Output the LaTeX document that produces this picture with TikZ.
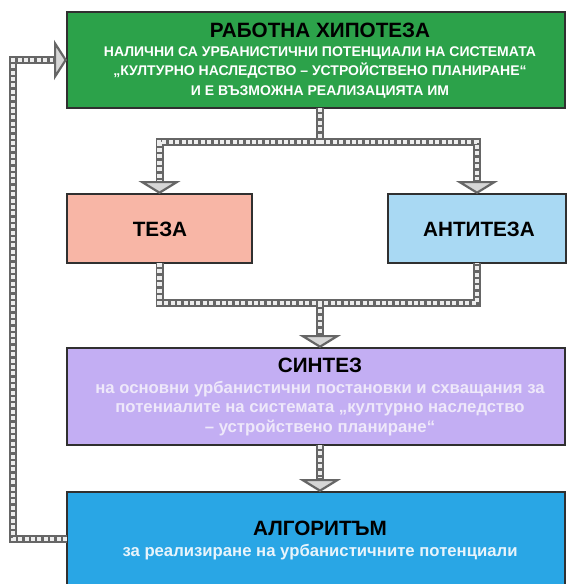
\documentclass[tikz,border=0pt]{standalone}
\usepackage{fontspec}
\setmainfont{Liberation Sans}
\usetikzlibrary{arrows.meta}
\definecolor{hypgreen}{HTML}{2CA24A}
\definecolor{tezapink}{HTML}{F8B6A6}
\definecolor{antiblue}{HTML}{A9D9F3}
\definecolor{synthlav}{HTML}{C3AEF3}
\definecolor{algoblue}{HTML}{29A6E5}
\definecolor{railgray}{HTML}{666666}
\definecolor{railin}{HTML}{EDEDED}
\definecolor{arrowfill}{HTML}{D6D6D6}
\definecolor{boxline}{HTML}{303030}
\definecolor{synthtext}{HTML}{EEE8FA}
\definecolor{algotext}{HTML}{E8F4FB}
\tikzset{
  box/.style={draw=boxline, line width=1.3pt, rectangle, inner sep=0pt, outer sep=0pt},
  railbase/.style={draw=railgray, line width=8pt, line join=miter,
    postaction={draw=railin, line width=4.4pt, dash pattern=on 4pt off 2.4pt}},
  rail/.style={draw=railgray, line width=8pt, line join=miter,
    -{Triangle[width=42pt,length=13pt,line width=2.2pt,fill=arrowfill]},
    postaction={draw=railin, line width=4.4pt, dash pattern=on 4pt off 2.4pt, arrows=-, shorten >=14pt}},
  railside/.style={draw=railgray, line width=8pt, line join=miter,
    -{Triangle[width=40pt,length=13pt,line width=2.2pt,fill=arrowfill]},
    postaction={draw=railin, line width=4.4pt, dash pattern=on 4pt off 2.4pt, arrows=-, shorten >=14pt}},
  titletxt/.style={font=\fontsize{20.7}{24}\selectfont\bfseries, text=black, inner sep=0pt},
  subtxt/.style={font=\fontsize{14}{19.5}\selectfont\bfseries, align=center, inner sep=0pt},
  bodytxt/.style={font=\fontsize{16.7}{19.5}\selectfont\bfseries, align=center, inner sep=0pt},
}
\begin{document}
\begin{tikzpicture}[x=1pt,y=-1pt]
\useasboundingbox (0,0) rectangle (567,584);
\clip (0,0) rectangle (567,584);
\fill[white] (0,0) rectangle (567,584);

% boxes
\node[box, fill=hypgreen, minimum width=498pt, minimum height=96pt] (hyp) at (316,60) {};
\node[box, fill=tezapink, minimum width=185pt, minimum height=69pt] (teza) at (159.5,228.5) {};
\node[box, fill=antiblue, minimum width=178pt, minimum height=69pt] (anti) at (477,228.5) {};
\node[box, fill=synthlav, minimum width=498pt, minimum height=97pt] (synth) at (316,396.5) {};
\node[box, fill=algoblue, minimum width=498pt, minimum height=94pt] (algo) at (316,539) {};

% texts
\node[titletxt] (hyptitle) at (320,30) {РАБОТНА ХИПОТЕЗА};
\node[subtxt, text=white] (hyptext) at (320,72.5) {НАЛИЧНИ СА УРБАНИСТИЧНИ ПОТЕНЦИАЛИ НА СИСТЕМАТА\\„КУЛТУРНО НАСЛЕДСТВО – УСТРОЙСТВЕНО ПЛАНИРАНЕ“\\И Е ВЪЗМОЖНА РЕАЛИЗАЦИЯТА ИМ};
\node[titletxt] (tezatxt) at (160,229) {ТЕЗА};
\node[titletxt] (antitxt) at (479,229) {АНТИТЕЗА};
\node[titletxt] (synthtitle) at (320,365) {СИНТЕЗ};
\node[bodytxt, text=synthtext] (synthbody) at (320,408.5) {на основни урбанистични постановки и схващания за\\потениалите на системата „културно наследство\\– устройствено планиране“};
\node[titletxt] (algotitle) at (320,528) {АЛГОРИТЪМ};
\node[bodytxt, text=algotext] (algobody) at (320,552) {за реализиране на урбанистичните потенциали};

% junction coordinates
\coordinate (col) at (320,0);
\coordinate (j1) at (320,142);
\coordinate (j2) at (320,303);
\coordinate (fb) at (13,539);

% connectors
\draw[railbase] (hyp.south -| col) -- (j1);
\draw[rail] (j1) -| (teza.north);
\draw[rail] (j1) -| (anti.north);
\draw[railbase] (teza.south) |- (j2) -| (anti.south);
\draw[rail] (j2) -- (synth.north -| col);
\draw[rail] (synth.south -| col) -- (algo.north -| col);
\draw[railside] (algo.west) -- (fb) |- (hyp.west);
\end{tikzpicture}
\end{document}
